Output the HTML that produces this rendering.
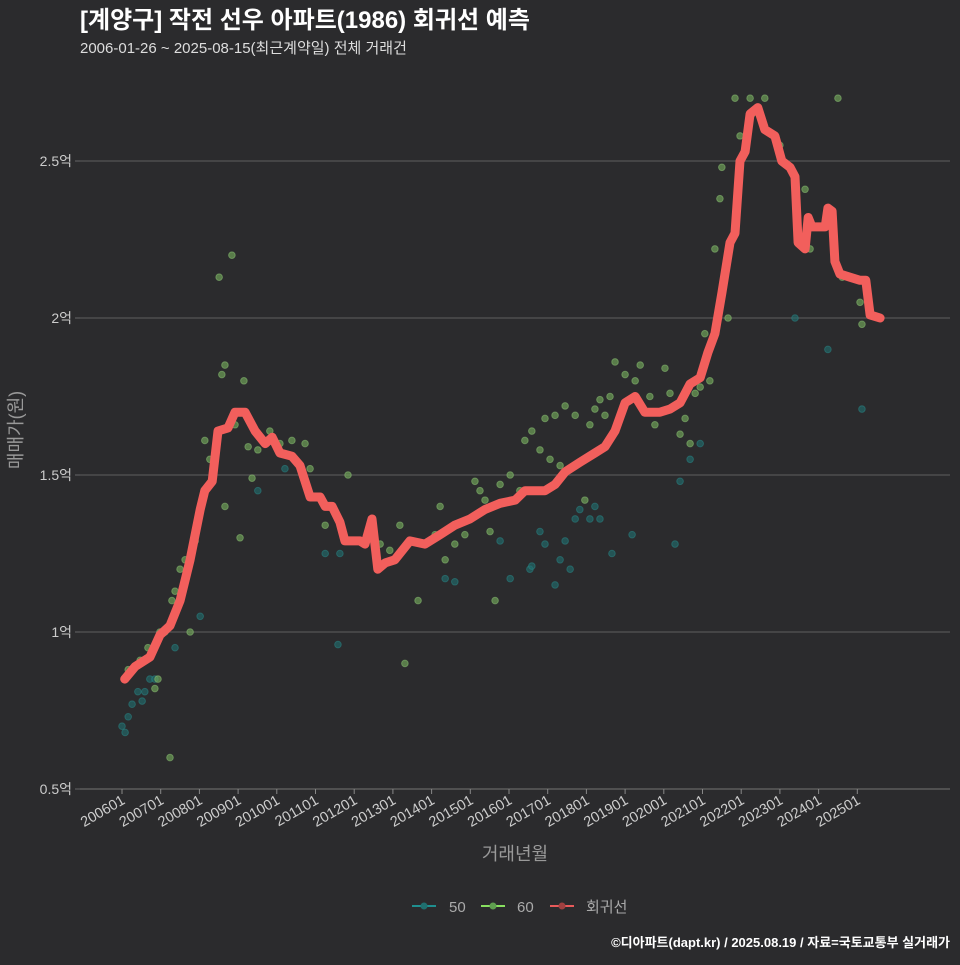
<!DOCTYPE html>
<html><head><meta charset="utf-8">
<style>
html,body{margin:0;padding:0;background:#2b2b2d;}
body{width:960px;height:960px;overflow:hidden;font-family:"Liberation Sans","Noto Sans CJK KR",sans-serif;}
</style></head>
<body>
<svg id="chart" width="960" height="960" xmlns="http://www.w3.org/2000/svg" style="font-family:'Liberation Sans','Noto Sans CJK KR',sans-serif">
<rect width="960" height="960" fill="#2b2b2d"/>
<text x="80" y="28" fill="#ffffff" font-size="24" font-weight="bold">[계양구] 작전 선우 아파트(1986) 회귀선 예측</text>
<text x="80" y="53" fill="#dddddd" font-size="15">2006-01-26 ~ 2025-08-15(최근계약일) 전체 거래건</text>
<g id="grid"></g>
<g id="points"></g>
<g id="line"></g>
<g id="xaxis"></g>
<text x="0" y="0" transform="translate(22,430) rotate(-90)" text-anchor="middle" fill="#999" font-size="18">매매가(원)</text>
<text x="515" y="860" text-anchor="middle" fill="#999" font-size="18">거래년월</text>
<g>
<g><line x1="412" y1="906" x2="436" y2="906" stroke="#1f8f8f" stroke-width="2"/><circle cx="424" cy="906" r="3.5" fill="#1f6f6f"/><text x="449" y="912" fill="#aaa" font-size="15">50</text></g>
<g><line x1="481" y1="906" x2="505" y2="906" stroke="#88e060" stroke-width="2"/><circle cx="493" cy="906" r="3.5" fill="#5f9f4f"/><text x="517" y="912" fill="#aaa" font-size="15">60</text></g>
<g><line x1="550" y1="906" x2="574" y2="906" stroke="#e85a5a" stroke-width="2"/><circle cx="562" cy="906" r="3.5" fill="#a04040"/><text x="586" y="912" fill="#aaa" font-size="15">회귀선</text></g>
</g>
<text x="950" y="947" text-anchor="end" fill="#ffffff" font-size="13" font-weight="bold">©디아파트(dapt.kr) / 2025.08.19 / 자료=국토교통부 실거래가</text>
</svg>
<script>
const yTicks=[0.5,1,1.5,2,2.5];
const yTickLabels=["0.5억","1억","1.5억","2억","2.5억"];
const xTickYears=[2006,2007,2008,2009,2010,2011,2012,2013,2014,2015,2016,2017,2018,2019,2020,2021,2022,2023,2024,2025];
const xTickLabels=["200601","200701","200801","200901","201001","201101","201201","201301","201401","201501","201601","201701","201801","201901","202001","202101","202201","202301","202401","202501"];
const lineYears=[2006.07,2006.34,2006.72,2006.98,2007.24,2007.50,2007.76,2008.02,2008.14,2008.33,2008.48,2008.74,2008.92,2009.18,2009.44,2009.70,2009.88,2010.08,2010.39,2010.60,2010.86,2011.12,2011.25,2011.43,2011.63,2011.76,2012.15,2012.28,2012.46,2012.61,2012.80,2013.05,2013.44,2013.83,2014.22,2014.60,2014.99,2015.38,2015.77,2016.16,2016.41,2016.93,2017.19,2017.45,2017.83,2018.22,2018.48,2018.74,2019.00,2019.26,2019.51,2019.90,2020.16,2020.42,2020.68,2020.94,2021.14,2021.32,2021.50,2021.71,2021.84,2021.97,2022.10,2022.23,2022.43,2022.61,2022.87,2023.05,2023.26,2023.39,2023.47,2023.65,2023.73,2023.83,2024.17,2024.24,2024.35,2024.42,2024.55,2024.81,2025.07,2025.22,2025.33,2025.59];
const lineValues=[0.85,0.89,0.92,0.99,1.02,1.10,1.23,1.39,1.45,1.48,1.64,1.65,1.70,1.70,1.64,1.60,1.62,1.57,1.56,1.53,1.43,1.43,1.40,1.40,1.35,1.29,1.29,1.28,1.36,1.20,1.22,1.23,1.29,1.28,1.31,1.34,1.36,1.39,1.41,1.42,1.45,1.45,1.47,1.51,1.54,1.57,1.59,1.64,1.73,1.75,1.70,1.70,1.71,1.73,1.79,1.81,1.89,1.95,2.08,2.24,2.27,2.50,2.53,2.65,2.67,2.60,2.58,2.50,2.48,2.45,2.24,2.22,2.32,2.29,2.29,2.35,2.34,2.18,2.14,2.13,2.12,2.12,2.01,2.00];
const g60Years=[2006.16,2006.34,2006.47,2006.67,2006.85,2006.93,2006.98,2007.11,2007.24,2007.29,2007.37,2007.50,2007.63,2007.76,2007.89,2008.14,2008.27,2008.51,2008.58,2008.66,2008.66,2008.84,2008.92,2009.05,2009.15,2009.26,2009.36,2009.51,2009.82,2010.08,2010.39,2010.73,2010.86,2011.25,2011.84,2012.15,2012.67,2012.92,2013.18,2013.31,2013.44,2013.65,2013.83,2014.09,2014.22,2014.35,2014.60,2014.86,2015.12,2015.25,2015.38,2015.51,2015.64,2015.77,2016.03,2016.16,2016.28,2016.41,2016.59,2016.80,2016.93,2017.06,2017.19,2017.32,2017.45,2017.58,2017.71,2017.96,2018.09,2018.22,2018.35,2018.48,2018.61,2018.74,2019.00,2019.26,2019.39,2019.64,2019.77,2020.03,2020.16,2020.42,2020.55,2020.68,2020.81,2020.94,2021.06,2021.19,2021.32,2021.45,2021.50,2021.66,2021.84,2021.97,2022.23,2022.28,2022.61,2023.00,2023.65,2023.78,2024.50,2024.61,2025.07,2025.12];
const g60Values=[0.88,0.89,0.91,0.95,0.82,0.85,1.00,1.00,0.60,1.10,1.13,1.20,1.23,1.00,1.29,1.61,1.55,2.13,1.82,1.85,1.40,2.20,1.66,1.30,1.80,1.59,1.49,1.58,1.64,1.60,1.61,1.60,1.52,1.34,1.50,1.29,1.28,1.26,1.34,0.90,1.29,1.10,1.28,1.31,1.40,1.23,1.28,1.31,1.48,1.45,1.42,1.32,1.10,1.47,1.50,1.42,1.45,1.61,1.64,1.58,1.68,1.55,1.69,1.53,1.72,1.52,1.69,1.42,1.66,1.71,1.74,1.69,1.75,1.86,1.82,1.80,1.85,1.75,1.66,1.84,1.76,1.63,1.68,1.60,1.76,1.78,1.95,1.80,2.22,2.38,2.48,2.00,2.70,2.58,2.70,2.65,2.70,2.55,2.41,2.22,2.70,2.13,2.05,1.98];
const t50Years=[2006.00,2006.08,2006.16,2006.26,2006.41,2006.52,2006.59,2006.72,2006.85,2007.37,2008.02,2009.51,2010.21,2011.25,2011.58,2011.63,2014.35,2014.60,2015.77,2016.03,2016.54,2016.59,2016.80,2016.93,2017.19,2017.32,2017.45,2017.58,2017.71,2017.83,2018.09,2018.22,2018.35,2018.66,2019.18,2020.29,2020.42,2020.68,2020.94,2023.39,2024.24,2025.12];
const t50Values=[0.70,0.68,0.73,0.77,0.81,0.78,0.81,0.85,0.85,0.95,1.05,1.45,1.52,1.25,0.96,1.25,1.17,1.16,1.29,1.17,1.20,1.21,1.32,1.28,1.15,1.23,1.29,1.20,1.36,1.39,1.36,1.40,1.36,1.25,1.31,1.28,1.48,1.55,1.60,2.00,1.90,1.71];

const NS="http://www.w3.org/2000/svg";
const X0=80,X1=950,Y_AXIS=789;
function xs(y){return 122+(y-2006)*38.7;}
function ys(v){return 789-(v-0.5)*314;}
function mk(tag,attrs,parent){const e=document.createElementNS(NS,tag);for(const k in attrs)e.setAttribute(k,attrs[k]);parent.appendChild(e);return e;}
const grid=document.getElementById('grid');
yTicks.forEach((t,i)=>{
  const l=mk('line',{x1:X0,x2:X1,y1:ys(t),y2:ys(t),stroke:i===0?'#666':'#555','stroke-width':1.3},grid);
  
  
  const tk=mk('line',{x1:X0-5,x2:X0,y1:ys(t),y2:ys(t),stroke:'#666'},grid);
  
  
  const tx=mk('text',{x:X0-8,y:ys(t)+5,'text-anchor':'end',fill:'#ccc','font-size':14},grid);
  tx.textContent=yTickLabels[i];
  
  
});
const xa=document.getElementById('xaxis');
xTickYears.forEach((yr,i)=>{
  const x=xs(yr);
  const tk=mk('line',{x1:x,x2:x,y1:Y_AXIS,y2:Y_AXIS+5,stroke:'#888'},xa);
  
  
  const tx=mk('text',{x:0,y:0,'text-anchor':'end',fill:'#ccc','font-size':14.5,transform:`translate(${x+4},${Y_AXIS+14}) rotate(-30)`},xa);
  tx.textContent=xTickLabels[i];
  
  
});
const pts=document.getElementById('points');
t50Years.forEach((yr,i)=>{
  const c=mk('circle',{cx:xs(yr),cy:ys(t50Values[i]),r:3.3,fill:'#1f7070','fill-opacity':0.6,stroke:'#2a8a8a','stroke-opacity':0.5},pts);
  
  
});
g60Years.forEach((yr,i)=>{
  const c=mk('circle',{cx:xs(yr),cy:ys(g60Values[i]),r:3.3,fill:'#72a85a','fill-opacity':0.65,stroke:'#90c878','stroke-opacity':0.5},pts);
  
  
});
const lg=document.getElementById('line');
const d=lineYears.map((yr,i)=>(i?'L':'M')+xs(yr).toFixed(1)+','+ys(lineValues[i]).toFixed(1)).join(' ');
const p=mk('path',{d:d,fill:'none',stroke:'#f25f5c','stroke-width':9,'stroke-linejoin':'round','stroke-linecap':'round'},lg);


</script>
</body></html>
